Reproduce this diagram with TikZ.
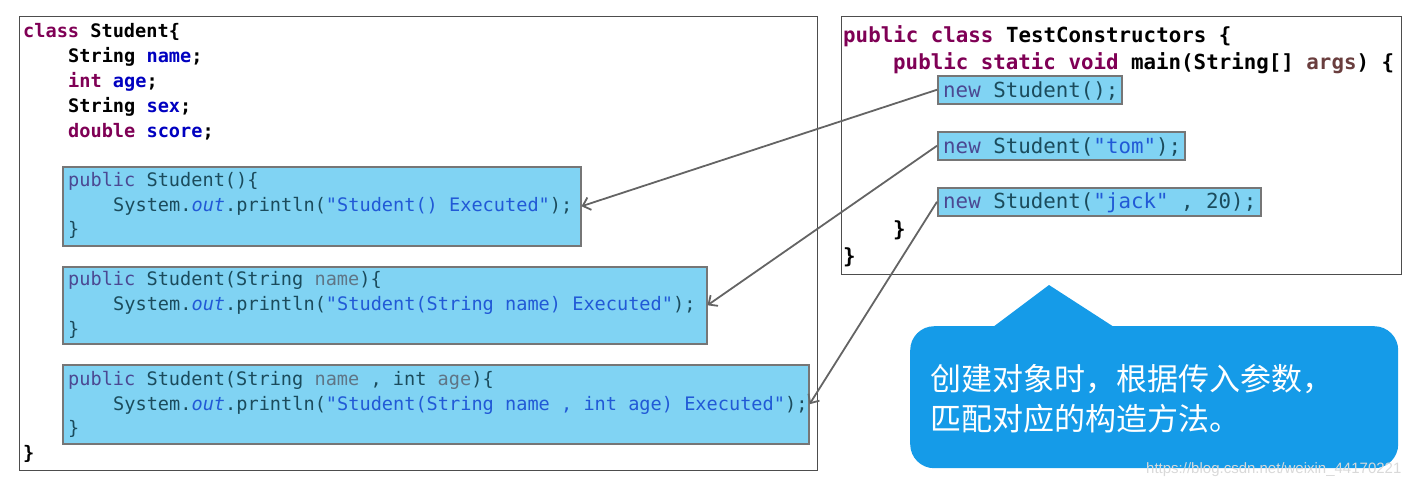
\documentclass[tikz,border=0pt]{standalone}
\usepackage{fontspec}
\setmonofont{DejaVu Sans Mono}
\newfontfamily\cjkfont{Noto Sans CJK SC}
\newfontfamily\markfont{Liberation Sans}
\usetikzlibrary{arrows.meta}
\definecolor{kwcol}{HTML}{7F0055}
\definecolor{fldcol}{HTML}{0000C0}
\definecolor{argcol}{HTML}{6A3E3E}
\definecolor{hlfill}{HTML}{80D3F3}
\definecolor{hledge}{HTML}{767676}
\definecolor{hlkw}{HTML}{4B4892}
\definecolor{hltext}{HTML}{1B4B5C}
\definecolor{hlstr}{HTML}{2159D6}
\definecolor{hlpar}{HTML}{5F7586}
\definecolor{notefill}{HTML}{159BE8}
\definecolor{framecol}{HTML}{4D4D4D}
\definecolor{arrowcol}{HTML}{646464}
\newcommand{\kw}[1]{\textcolor{kwcol}{#1}}
\newcommand{\fld}[1]{\textcolor{fldcol}{#1}}
\newcommand{\hk}[1]{\textcolor{hlkw}{#1}}
\newcommand{\hs}[1]{\textcolor{hlstr}{#1}}
\newcommand{\hp}[1]{\textcolor{hlpar}{#1}}
\newcommand{\ho}[1]{\textcolor{hlstr}{\itshape #1}}
\tikzset{
  frame/.style={draw=framecol,line width=1.2pt,anchor=north west,inner sep=0pt},
  hlbox/.style={draw=hledge,fill=hlfill,line width=1.5pt,anchor=north west,inner sep=0pt},
  leftcode/.style={anchor=base west,inner sep=0pt,font=\ttfamily\fontsize{18.6}{22}\selectfont},
  rightcode/.style={anchor=base west,inner sep=0pt,font=\ttfamily\fontsize{20.8}{25}\selectfont},
  boldcode/.style={font=\ttfamily\bfseries\fontsize{#1}{25}\selectfont},
  link/.style={draw=arrowcol,line width=1.8pt,-{Straight Barb[length=7pt,width=13pt]}},
  notetext/.style={anchor=base west,inner sep=0pt,text=white,font=\cjkfont\fontsize{31}{36}\selectfont}
}
\begin{document}
\begin{tikzpicture}[x=1pt,y=-1pt]
    \useasboundingbox (0,0) rectangle (1424,491);
    %% class Student
    \node[frame,minimum width=798,minimum height=454] (classbox) at (19,16) {};
    \node[hlbox,minimum width=518,minimum height=79] (ctorA) at (62,166) {};
    \node[hlbox,minimum width=644,minimum height=77] (ctorB) at (62,266) {};
    \node[hlbox,minimum width=746,minimum height=79] (ctorC) at (62,364) {};
    \node[leftcode,boldcode=18.6] (clsA) at (23,37) {\kw{class} Student\{};
    \node[leftcode,boldcode=18.6] (clsB) at (68,62) {String \fld{name};};
    \node[leftcode,boldcode=18.6] (clsC) at (68,87) {\kw{int} \fld{age};};
    \node[leftcode,boldcode=18.6] (clsD) at (68,112) {String \fld{sex};};
    \node[leftcode,boldcode=18.6] (clsE) at (68,137) {\kw{double} \fld{score};};
    \node[leftcode,text=hltext] (ctorAa) at (68,186) {\hk{public} Student()\{};
    \node[leftcode,text=hltext] (ctorAb) at (113,211) {System.\ho{out}.println(\hs{"Student() Executed"});};
    \node[leftcode,text=hltext] (ctorAc) at (68,235) {\}};
    \node[leftcode,text=hltext] (ctorBa) at (68,285) {\hk{public} Student(String \hp{name})\{};
    \node[leftcode,text=hltext] (ctorBb) at (113,310) {System.\ho{out}.println(\hs{"Student(String name) Executed"});};
    \node[leftcode,text=hltext] (ctorBc) at (68,335) {\}};
    \node[leftcode,text=hltext] (ctorCa) at (68,385) {\hk{public} Student(String \hp{name} , int \hp{age})\{};
    \node[leftcode,text=hltext] (ctorCb) at (113,410) {System.\ho{out}.println(\hs{"Student(String name , int age) Executed"});};
    \node[leftcode,text=hltext] (ctorCc) at (68,434) {\}};
    \node[leftcode,boldcode=18.6] (clsF) at (23,459) {\}};
    %% class TestConstructors
    \node[frame,minimum width=560,minimum height=258] (mainbox) at (841,16) {};
    \node[hlbox,minimum width=184,minimum height=28] (callA) at (937,75) {};
    \node[hlbox,minimum width=247,minimum height=28] (callB) at (937,131) {};
    \node[hlbox,minimum width=323,minimum height=28] (callC) at (937,187) {};
    \node[rightcode,boldcode=20.8] (mainA) at (843,42) {\kw{public} \kw{class} TestConstructors \{};
    \node[rightcode,boldcode=20.8] (mainB) at (893,69) {\kw{public} \kw{static} \kw{void} main(String[] \textcolor{argcol}{args}) \{};
    \node[rightcode,text=hltext] (callAt) at (943,97) {\hk{new} Student();};
    \node[rightcode,text=hltext] (callBt) at (943,153) {\hk{new} Student(\hs{"tom"});};
    \node[rightcode,text=hltext] (callCt) at (943,208) {\hk{new} Student(\hs{"jack"} , 20);};
    \node[rightcode,boldcode=20.8] (mainC) at (893,236) {\}};
    \node[rightcode,boldcode=20.8] (mainD) at (843,263) {\}};
    %% calls to constructors
    \foreach \a/\b in {callA/ctorA,callB/ctorB,callC/ctorC}
        \draw[link] (\a.west) -- (\b.east);
    %% note
    \node[fill=notefill,rounded corners=24pt,minimum width=488,minimum height=142,anchor=north west,inner sep=0pt] (note) at (910,326) {};
    \fill[notefill] ([xshift=83,yshift=-1]note.north west) -- (1049,285) -- ([xshift=204,yshift=-1]note.north west) -- cycle;
    \node[notetext] (noteA) at (930,390) {创建对象时，根据传入参数，};
    \node[notetext] (noteB) at (930,430) {匹配对应的构造方法。};
    \node[anchor=west,inner sep=0pt,text=gray!30,font=\markfont\fontsize{15}{18}\selectfont] (mark) at (1146,470) {https://blog.csdn.net/weixin\_44170221};
\end{tikzpicture}
\end{document}
